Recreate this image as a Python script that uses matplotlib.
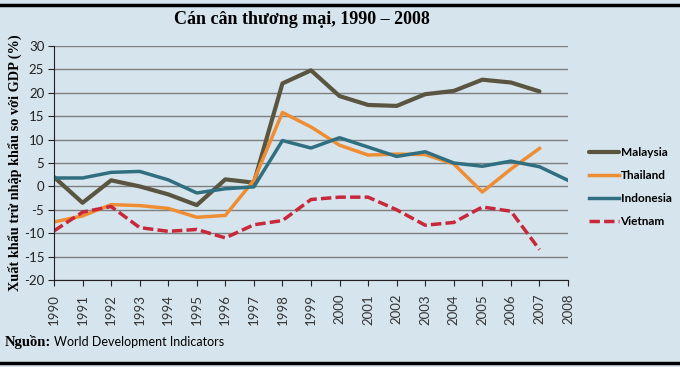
import matplotlib.pyplot as plt
from matplotlib.lines import Line2D

years = list(range(1990, 2009))
malaysia = [2.0, -3.5, 1.3, 0.0, -1.7, -4.0, 1.5, 0.8, 22.0, 24.8, 19.3, 17.4, 17.2, 19.7, 20.4, 22.8, 22.2, 20.3]
thailand = [-7.6, -6.3, -3.9, -4.1, -4.7, -6.6, -6.2, 1.3, 15.8, 12.7, 8.8, 6.7, 6.9, 6.8, 4.8, -1.2, 3.7, 8.1]
indonesia = [1.8, 1.8, 3.0, 3.2, 1.4, -1.4, -0.5, -0.1, 9.8, 8.2, 10.4, 8.4, 6.4, 7.4, 5.0, 4.3, 5.4, 4.2, 1.3]
vietnam = [-9.5, -5.5, -4.3, -8.8, -9.6, -9.2, -11.0, -8.2, -7.3, -2.8, -2.3, -2.3, -5.0, -8.3, -7.7, -4.4, -5.3, -13.5]
yticks = list(range(-20, 31, 5))

bg = '#d6e4ee'
fig = plt.figure(figsize=(6.8, 3.67), dpi=100, facecolor=bg)
ax = fig.add_axes([54/680, 1-280/367, (568-54)/680, (280-46)/367])
ax.set_facecolor(bg)

ax.plot(years[:18], malaysia, color='#5a5540', lw=3, label='Malaysia', solid_capstyle='round')
ax.plot(years[:18], thailand, color='#ef8d33', lw=2.5, label='Thailand')
ax.plot(years, indonesia, color='#2f6f80', lw=2.5, label='Indonesia')
ax.plot(years[:18], vietnam, color='#c8283a', lw=2.5, ls=(0, (3, 1.2)), label='Vietnam')

ax.set_xlim(1990, 2008)
ax.set_ylim(-20, 30)
ax.set_yticks(yticks)
ax.set_xticks(years)
ax.set_xticklabels([str(y) for y in years], rotation=90, fontsize=9.5, family='Lato', color='#333333')
ax.set_yticklabels([str(t) for t in yticks], fontsize=9.5, family='Lato', color='#222222')
ax.grid(axis='y', color='#7f7f7f', lw=1)
ax.set_axisbelow(True)
for s in ['top', 'right']:
    ax.spines[s].set_visible(False)
ax.spines['left'].set_color('#222222')
ax.spines['bottom'].set_color('#222222')
ax.tick_params(axis='both', direction='out', length=4, color='#222222')
ax.tick_params(axis='x', pad=6)
ax.tick_params(axis='y', pad=3)

ax.set_ylabel('Xuất khẩu trừ nhập khẩu so với GDP (%)', family='Liberation Serif',
              fontweight='bold', fontsize=10.3, labelpad=1)
fig.text(302/680, 1-20/367, 'Cán cân thương mại, 1990 – 2008', ha='center', va='center',
         family='Liberation Serif', fontweight='bold', fontsize=13)

leg = fig.legend(loc='center left', bbox_to_anchor=(578/680, 1-187/367), frameon=False,
                 prop={'family': 'Lato', 'weight': 'bold', 'size': 8.5}, handlelength=2.6,
                 handletextpad=0.1, labelspacing=1.0)

fig.text(5/680, 1-342/367, 'Nguồn:', family='Liberation Serif', fontweight='bold', fontsize=10.5, va='center')
fig.text(54/680, 1-342/367, 'World Development Indicators', family='Lato', fontsize=9, va='center')

fig.add_artist(Line2D([0, 1], [1-5/367, 1-5/367], color='black', lw=2.5, transform=fig.transFigure))
fig.add_artist(Line2D([0, 1], [1-363/367, 1-363/367], color='black', lw=2.5, transform=fig.transFigure))

fig.savefig('out.png', dpi=100, facecolor=bg)
